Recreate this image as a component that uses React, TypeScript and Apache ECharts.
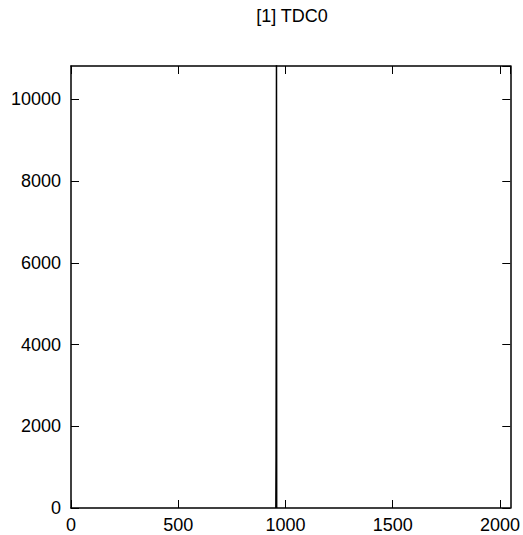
import React, { useEffect, useRef } from "react";
import * as echarts from "echarts";

const title = "[1] TDC0";
const binLowEdges = [955, 956, 957, 958, 959];
const binCounts = [0, 1250, 4770, 11000, 0];
const xTicks = [0, 500, 1000, 1500, 2000];
const yTicks = [0, 2000, 4000, 6000, 8000, 10000];
const xMax = 2048;
const yMax = 10815;

export default function App() {
  const ref = useRef<HTMLDivElement>(null);
  useEffect(() => {
    if (!ref.current) return;
    const chart = echarts.init(ref.current, null, { renderer: "svg" });
    const pts: [number, number][] = [];
    pts.push([binLowEdges[0], 0]);
    binLowEdges.forEach((lo, i) => {
      pts.push([lo, binCounts[i]]);
      pts.push([lo + 1, binCounts[i]]);
    });
    pts.push([binLowEdges[binLowEdges.length - 1] + 1, 0]);
    const font = "'Liberation Sans', Arial, sans-serif";
    const tickCommon = { show: true, inside: true, length: 8, lineStyle: { color: "#000", width: 1 } };
    chart.setOption({
      animation: false,
      backgroundColor: "#fff",
      graphic: [
        {
          type: "text",
          x: 292,
          y: 16,
          style: {
            text: title,
            fontFamily: font,
            fontSize: 18,
            fill: "#000",
            align: "center",
            verticalAlign: "middle",
          },
        },
      ],
      grid: { left: 71, right: 10, top: 66, bottom: 27, containLabel: false },
      xAxis: [
        {
          type: "value",
          min: 0,
          max: xMax,
          interval: 500,
          position: "bottom",
          axisLine: { show: true, onZero: false, lineStyle: { color: "#000", width: 1.5 } },
          axisTick: tickCommon,
          splitLine: { show: false },
          axisLabel: {
            fontFamily: font,
            fontSize: 18,
            color: "#000",
            margin: 8,
            showMaxLabel: false,
            formatter: (v: number) => (xTicks.includes(v) ? String(v) : ""),
          },
        },
        {
          type: "value",
          min: 0,
          max: xMax,
          interval: 500,
          position: "top",
          axisLine: { show: true, onZero: false, lineStyle: { color: "#000", width: 1.5 } },
          axisTick: tickCommon,
          splitLine: { show: false },
          axisLabel: { show: false },
        },
      ],
      yAxis: [
        {
          type: "value",
          min: 0,
          max: yMax,
          interval: 2000,
          position: "left",
          axisLine: { show: true, onZero: false, lineStyle: { color: "#000", width: 1.5 } },
          axisTick: tickCommon,
          splitLine: { show: false },
          axisLabel: {
            fontFamily: font,
            fontSize: 18,
            color: "#000",
            margin: 10,
            showMaxLabel: false,
            formatter: (v: number) => (yTicks.includes(v) ? String(v) : ""),
          },
        },
        {
          type: "value",
          min: 0,
          max: yMax,
          interval: 2000,
          position: "right",
          axisLine: { show: true, onZero: false, lineStyle: { color: "#000", width: 1.5 } },
          axisTick: tickCommon,
          splitLine: { show: false },
          axisLabel: { show: false },
        },
      ],
      series: [
        {
          type: "line",
          data: pts,
          xAxisIndex: 0,
          yAxisIndex: 0,
          showSymbol: false,
          clip: true,
          lineStyle: { color: "#000", width: 1.5 },
        },
      ],
    });
    return () => chart.dispose();
  }, []);
  return <div ref={ref} style={{ position: "fixed", left: 0, top: 0, width: 523, height: 535 }} />;
}
